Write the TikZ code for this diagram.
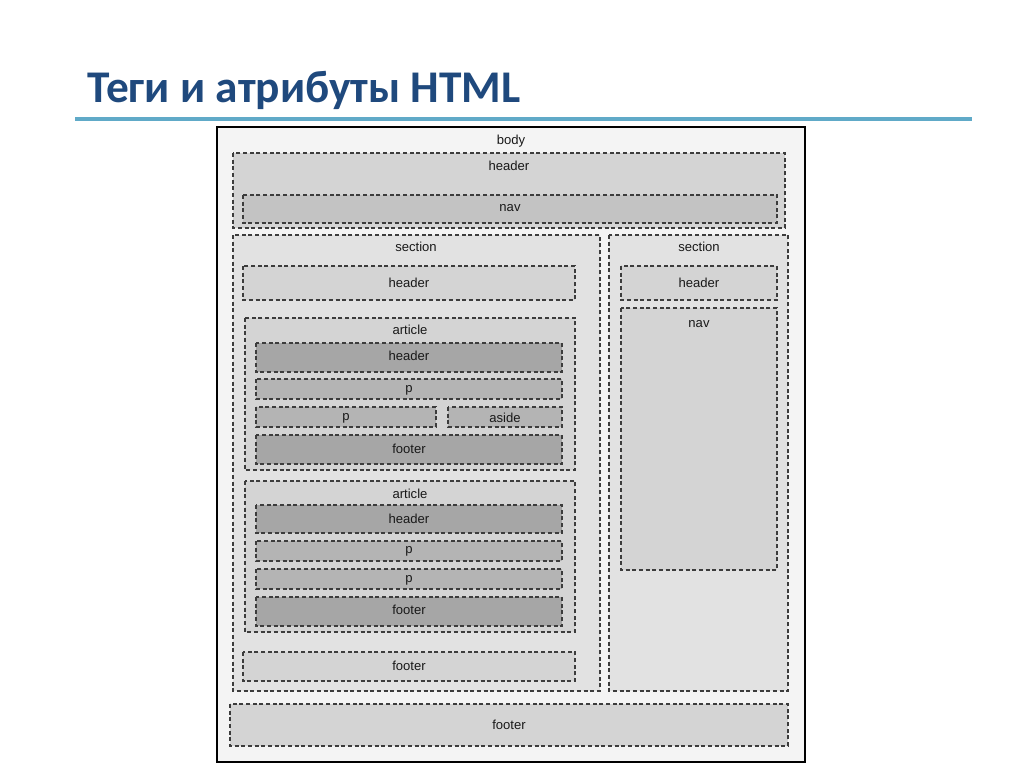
\documentclass[tikz,border=0pt]{standalone}
\usepackage{fontspec}
\setmainfont{Liberation Sans}
\newfontfamily\titlefont{Carlito}
\definecolor{titleblue}{RGB}{31,73,125}
\definecolor{rulecol}{RGB}{96,170,200}
\definecolor{bodyfill}{RGB}{244,244,244}
\definecolor{lightfill}{RGB}{226,226,226}
\definecolor{midfill}{RGB}{212,212,212}
\definecolor{darkfill}{RGB}{166,166,166}
\definecolor{pfill}{RGB}{180,180,180}
\definecolor{dashcol}{RGB}{60,60,60}
\tikzset{
  dbox/.style={draw=dashcol, line width=0.8pt, dash pattern=on 3pt off 2pt},
  lbl/.style={font=\fontsize{9.8}{11}\selectfont, text=black!90, inner sep=0pt},
}
\begin{document}
\begin{tikzpicture}[x=0.75pt,y=-0.75pt]
\useasboundingbox[fill=white] (0,0) rectangle (1024,767);
% title
\node[anchor=base west, inner sep=0pt, font=\titlefont\bfseries\fontsize{34}{38}\selectfont, text=titleblue] (title) at (87,103) {Теги и атрибуты HTML};
\draw[rulecol, line width=2.4pt] (75,119) -- (972,119);
% body
\draw[black, line width=2.2pt, fill=bodyfill] (217,127) rectangle (805,762);
\node[lbl] (body) at (511,141) {body};
% page header
\draw[dbox, fill=midfill] (233,153) rectangle (785,228);
\node[lbl] (hdr) at (509,166) {header};
\draw[dbox, fill=midfill!92!black] (243,195) rectangle (777,223);
\node[lbl] (nav) at (510,208) {nav};
% left section
\draw[dbox, fill=lightfill] (233,235) rectangle (600,691);
\node[lbl] (secL) at (416,247) {section};
\draw[dbox, fill=midfill] (243,266) rectangle (575,300);
\node[lbl] (secLhdr) at (409,283) {header};
% article 1
\draw[dbox, fill=midfill] (245,318) rectangle (575,470);
\node[lbl] (art1) at (410,330) {article};
\draw[dbox, fill=darkfill] (256,343) rectangle (562,372);
\node[lbl] (a1hdr) at (409,356) {header};
\draw[dbox, fill=pfill] (256,379) rectangle (562,399);
\node[lbl] (a1p1) at (409,390) {p};
\draw[dbox, fill=pfill] (256,407) rectangle (436,427);
\node[lbl] (a1p2) at (346,418) {p};
\draw[dbox, fill=pfill] (448,407) rectangle (562,427);
\node[lbl] (a1aside) at (505,418) {aside};
\draw[dbox, fill=darkfill] (256,435) rectangle (562,464);
\node[lbl] (a1ftr) at (409,449) {footer};
% article 2
\draw[dbox, fill=midfill] (245,481) rectangle (575,632);
\node[lbl] (art2) at (410,494) {article};
\draw[dbox, fill=darkfill] (256,505) rectangle (562,533);
\node[lbl] (a2hdr) at (409,519) {header};
\draw[dbox, fill=pfill] (256,541) rectangle (562,561);
\node[lbl] (a2p1) at (409,551) {p};
\draw[dbox, fill=pfill] (256,569) rectangle (562,589);
\node[lbl] (a2p2) at (409,580) {p};
\draw[dbox, fill=darkfill] (256,597) rectangle (562,626);
\node[lbl] (a2ftr) at (409,610) {footer};
% left section footer
\draw[dbox, fill=midfill] (243,652) rectangle (575,681);
\node[lbl] (secLftr) at (409,666) {footer};
% right section
\draw[dbox, fill=lightfill] (609,235) rectangle (788,691);
\node[lbl] (secR) at (699,247) {section};
\draw[dbox, fill=midfill] (621,266) rectangle (777,300);
\node[lbl] (secRhdr) at (699,283) {header};
\draw[dbox, fill=midfill] (621,308) rectangle (777,570);
\node[lbl] (secRnav) at (699,324) {nav};
% page footer
\draw[dbox, fill=midfill] (230,704) rectangle (788,746);
\node[lbl] (ftr) at (509,725) {footer};
\end{tikzpicture}
\end{document}
